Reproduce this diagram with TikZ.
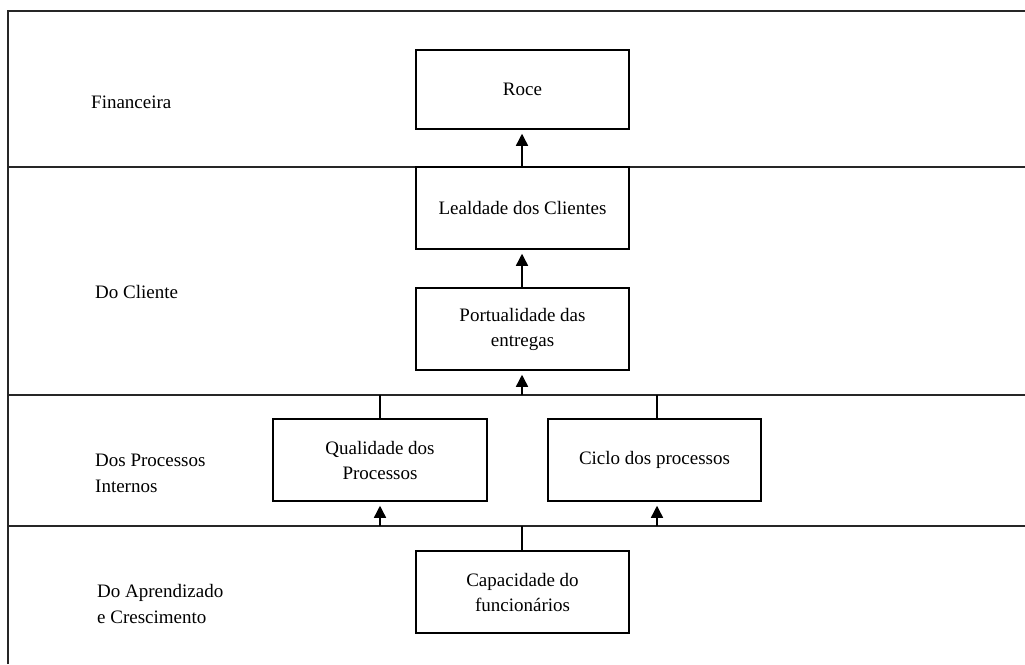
\documentclass[tikz,border=0pt]{standalone}
\usepackage{fontspec}
\setmainfont{Liberation Serif}
\usetikzlibrary{arrows.meta}
\begin{document}
\begin{tikzpicture}[x=1pt,y=-1pt,
  lane/.style={line width=2pt,black!85},
  goal/.style={draw,line width=1.5pt,minimum width=213pt,minimum height=82pt,
    inner sep=2pt,align=center,font=\fontsize{19}{25}\selectfont},
  lanelabel/.style={anchor=west,inner sep=0pt,align=left,font=\fontsize{19}{26}\selectfont},
  link/.style={line width=1.4pt},
  push/.style={link,-{Triangle[width=12pt,length=12pt]},shorten >=4pt}]
\useasboundingbox (0,0) rectangle (1025,664);

% frame and lane dividers
\draw[lane] (8,664) -- (8,11) -- (1025,11);
\draw[lane] (8,167) -- (1025,167);
\draw[lane] (8,395) -- (1025,395);
\draw[lane] (8,526) -- (1025,526);

% lane titles
\node[lanelabel] (lfin) at (91,102) {Financeira};
\node[lanelabel] (lcli) at (95,292) {Do Cliente};
\node[lanelabel] (lproc) at (95,473) {Dos Processos\\Internos};
\node[lanelabel] (lapr) at (97,604) {Do Aprendizado\\e Crescimento};

% objectives
\node[goal,minimum height=79pt] (roce) at (522.5,89.5) {Roce};
\node[goal] (leal) at (522.5,208) {Lealdade dos Clientes};
\node[goal] (pont) at (522.5,329) {Portualidade das\\entregas};
\node[goal,minimum width=214pt] (qual) at (380,460) {Qualidade dos\\Processos};
\node[goal] (cicl) at (654.5,460) {Ciclo dos processos};
\node[goal] (capa) at (522.5,592) {Capacidade do\\funcionários};

% junction points on the dividers
\coordinate (j1) at (522,167);
\coordinate (j2a) at (380,395);
\coordinate (j2b) at (522,395);
\coordinate (j2c) at (657,395);
\coordinate (j3a) at (380,526);
\coordinate (j3b) at (522,526);
\coordinate (j3c) at (657,526);

% cause-and-effect links
\draw[push] (j1) -- (roce.south -| j1);
\draw[push] (pont.north -| j1) -- (leal.south -| j1);
\draw[push] (j2b) -- (pont.south -| j2b);
\draw[link] (qual.north -| j2a) -- (j2a);
\draw[link] (cicl.north -| j2c) -- (j2c);
\draw[link] (capa.north -| j3b) -- (j3b);
\draw[push] (j3a) -- (qual.south -| j3a);
\draw[push] (j3c) -- (cicl.south -| j3c);
\end{tikzpicture}
\end{document}
